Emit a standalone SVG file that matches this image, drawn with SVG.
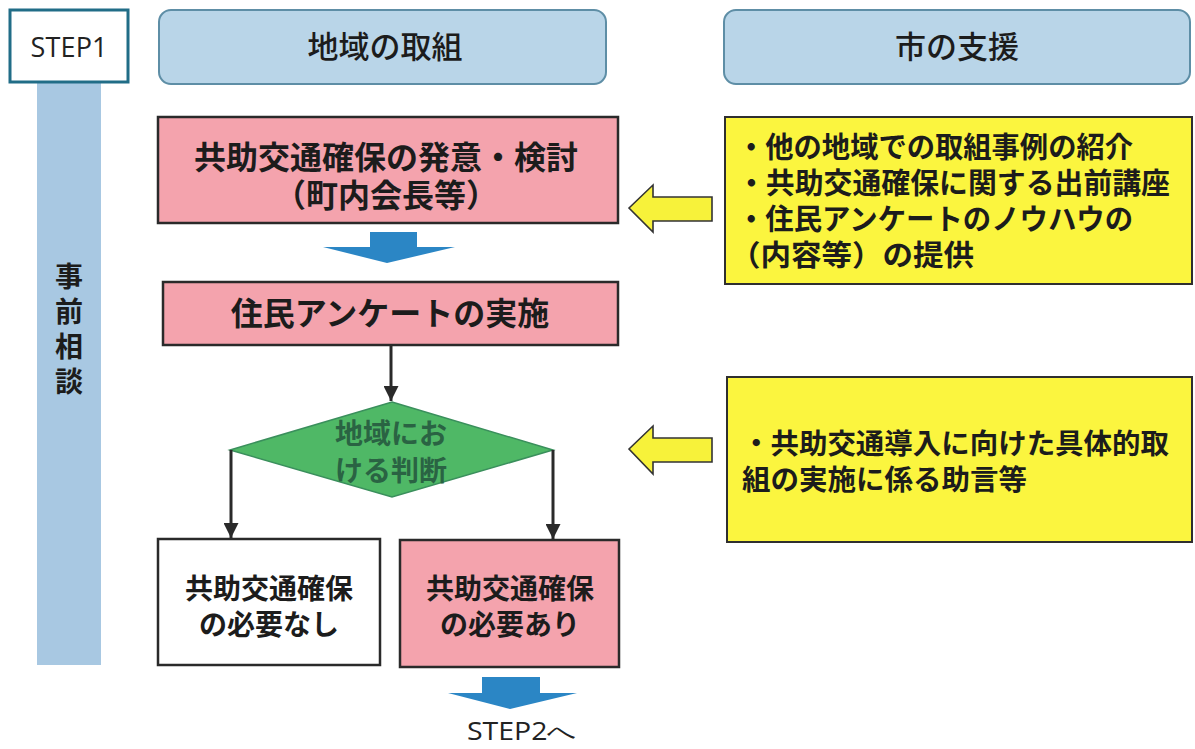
<svg xmlns="http://www.w3.org/2000/svg" width="1195" height="749" viewBox="0 0 1195 749">
<defs>
<style>
.jp{font-family:"Noto Sans CJK JP","Noto Sans CJK SC",sans-serif;fill:#1c1c1c}
.b{font-weight:bold}
.m{font-weight:500}
.lat{font-family:"Open Sans","Liberation Sans",sans-serif;fill:#222}
.hdr{fill:#b9d5e8;stroke:#5e8ea6;stroke-width:2}
.pink{fill:#f4a3ad;stroke:#2a2a2a;stroke-width:2.5}
.white{fill:#ffffff;stroke:#2a2a2a;stroke-width:2.5}
.yel{fill:#fbf53f;stroke:#2f2f2f;stroke-width:2}
.yarrow{fill:#f7f23a;stroke:#333;stroke-width:1.6;stroke-linejoin:miter}
.barrow{fill:#2b86c5}
.conn{stroke:#2a2a2a;stroke-width:3;fill:none}
.dj{font-family:"Noto Sans CJK JP","Noto Sans CJK SC",sans-serif;fill:#2a6343;font-weight:bold}
</style>
<marker id="ah" viewBox="0 0 10 10" refX="10" refY="5" markerWidth="5" markerHeight="5" orient="auto" markerUnits="strokeWidth">
<path d="M0,0 L10,5 L0,10 z" fill="#2a2a2a"/>
</marker>
</defs>
<rect width="1195" height="749" fill="#ffffff"/>

<g id="strip">
<rect x="37" y="82" width="64" height="583" fill="#a8c8e2"/>
<text class="jp b" font-size="28" text-anchor="middle"><tspan x="69" y="287">事</tspan><tspan x="69" y="322">前</tspan><tspan x="69" y="357">相</tspan><tspan x="69" y="392">談</tspan></text>
</g>

<g id="step1">
<rect x="10" y="10" width="118" height="72" fill="#ffffff" stroke="#216d87" stroke-width="3"/>
<text class="lat" x="69" y="57" font-size="27" text-anchor="middle" textLength="77">STEP1</text>
</g>

<g id="header-local">
<rect class="hdr" x="159" y="10" width="447" height="74" rx="12"/>
<text class="jp m" x="385" y="58" font-size="31" text-anchor="middle">地域の取組</text>
</g>

<g id="header-city">
<rect class="hdr" x="724" y="10" width="466" height="74" rx="12"/>
<text class="jp m" x="957" y="58" font-size="31" text-anchor="middle">市の支援</text>
</g>

<g id="n-hatsui">
<rect class="pink" x="158" y="117" width="460" height="106"/>
<text class="jp b" x="386" y="169" font-size="32" text-anchor="middle">共助交通確保の発意・検討</text>
<text class="jp b" x="386" y="207" font-size="32" text-anchor="middle">（町内会長等）</text>
</g>

<g id="n-survey">
<rect class="pink" x="163" y="282" width="455" height="63"/>
<text class="jp b" x="390" y="325" font-size="32" text-anchor="middle">住民アンケートの実施</text>
</g>

<g id="n-judge">
<polygon points="392,402 553,450 392,497 230,450" fill="#4fb866" stroke="#3a8f5c" stroke-width="1.5"/>
<text class="dj" x="391" y="444" font-size="28" text-anchor="middle">地域にお</text>
<text class="dj" x="391" y="481" font-size="28" text-anchor="middle">ける判断</text>
</g>

<g id="n-no">
<rect class="white" x="158" y="539" width="222" height="126"/>
<text class="jp b" x="269" y="599" font-size="28" text-anchor="middle">共助交通確保</text>
<text class="jp b" x="269" y="635" font-size="28" text-anchor="middle">の必要なし</text>
</g>

<g id="n-yes">
<rect class="pink" x="400" y="540" width="219" height="127"/>
<text class="jp b" x="510" y="599" font-size="28" text-anchor="middle">共助交通確保</text>
<text class="jp b" x="510" y="635" font-size="28" text-anchor="middle">の必要あり</text>
</g>

<g id="n-support1">
<rect class="yel" x="725" y="117" width="467" height="167"/>
<text class="jp b" font-size="29" x="737" y="158" textLength="396" lengthAdjust="spacingAndGlyphs">・他の地域での取組事例の紹介</text>
<text class="jp b" font-size="29" x="737" y="194" textLength="433" lengthAdjust="spacingAndGlyphs">・共助交通確保に関する出前講座</text>
<text class="jp b" font-size="29" x="737" y="230" textLength="396" lengthAdjust="spacingAndGlyphs">・住民アンケートのノウハウの</text>
<text class="jp b" font-size="29" x="730" y="266" textLength="244" lengthAdjust="spacingAndGlyphs">（内容等）の提供</text>
</g>

<g id="n-support2">
<rect class="yel" x="727" y="377" width="465" height="165"/>
<text class="jp b" font-size="28" x="742" y="454" textLength="427" lengthAdjust="spacingAndGlyphs">・共助交通導入に向けた具体的取</text>
<text class="jp b" font-size="28" x="742" y="490" textLength="285" lengthAdjust="spacingAndGlyphs">組の実施に係る助言等</text>
</g>

<g id="n-step2">
<text class="lat" x="467" y="740" font-size="25" textLength="110" lengthAdjust="spacingAndGlyphs">STEP2へ</text>
</g>

<g id="connectors">
<polygon class="barrow" points="370,232 417,232 417,247 455,247 387,263 323,247 370,247"/>
<polygon class="barrow" points="482,677 540,677 540,693 577,693 510,709 448,693 482,693"/>
<line class="conn" x1="391" y1="345" x2="391" y2="401" marker-end="url(#ah)"/>
<polyline class="conn" points="231,450 231,538" marker-end="url(#ah)"/>
<polyline class="conn" points="553,450 553,539" marker-end="url(#ah)"/>
<polygon class="yarrow" points="629,208 653,185 653,197 712,197 712,221 653,221 653,232"/>
<polygon class="yarrow" points="629,449 653,426 653,438 712,438 712,462 653,462 653,474"/>
</g>
</svg>
